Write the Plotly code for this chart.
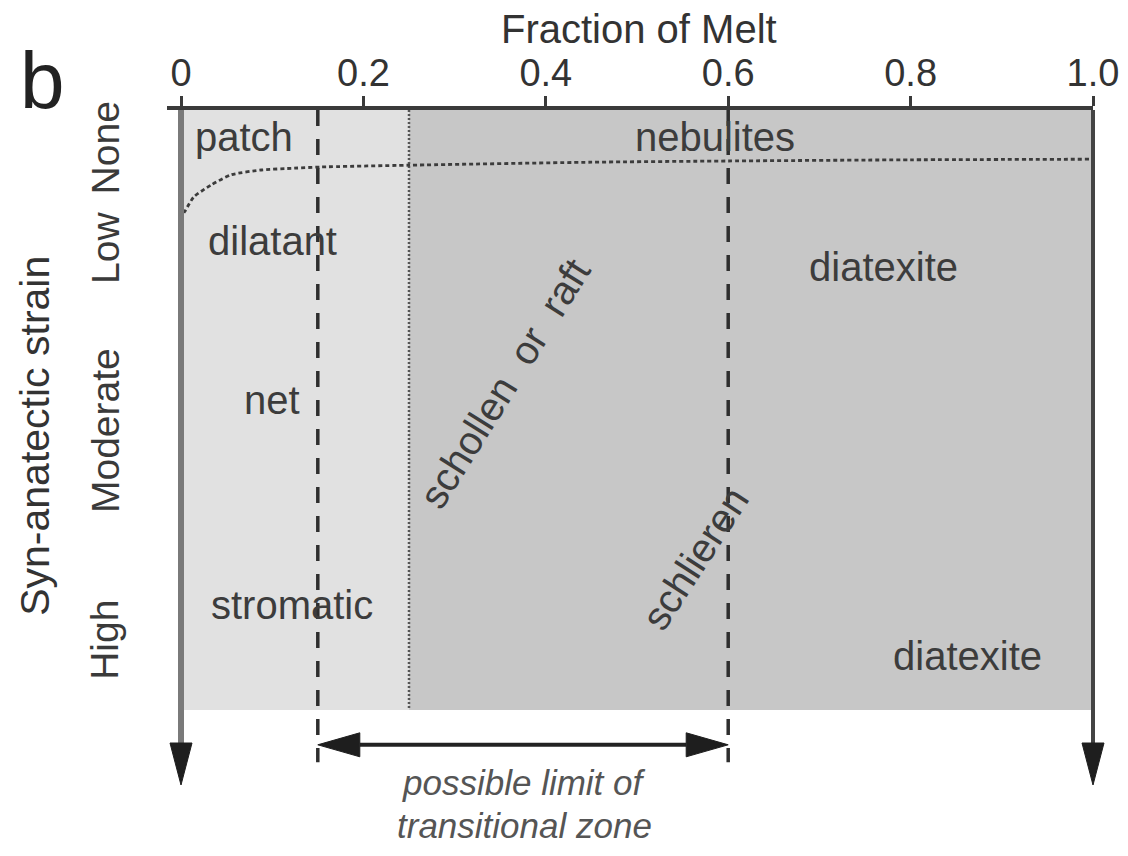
import plotly.graph_objects as go

# ---- data ----
# top axis: fraction of melt
tick_vals = [0, 0.2, 0.4, 0.6, 0.8, 1.0]
tick_text = ["0", "0.2", "0.4", "0.6", "0.8", "1.0"]

# shaded zones along the melt axis (metatexite / diatexite)
zone_edges = [0, 0.25, 1.0]
zone_colors = ["#e1e1e1", "#c7c7c7"]
zone_bottom = 1.0                # strain value where the shading stops

transition_limits = [0.15, 0.6]  # dashed lines
migmatite_limit = 0.25           # dotted line

# left axis: syn-anatectic strain, 0 = none (top) .. 1 = high (bottom)
strain_levels = ["None", "Low", "Moderate", "High"]
strain_pos = [0.064, 0.23, 0.535, 0.883]

# dotted boundary curve (patch / nebulites above it)
curve_melt = [0, 0, 0.005, 0.014, 0.033, 0.055, 0.088, 0.124, 0.153, 0.25, 0.45, 0.6, 0.8, 1.0]
curve_strain = [0.217, 0.18, 0.167, 0.145, 0.125, 0.108, 0.1, 0.097, 0.095, 0.092, 0.087, 0.085, 0.083, 0.082]

# structure names inside the diagram
region_names = ["patch", "dilatant", "net", "stromatic", "nebulites",
                 "diatexite", "diatexite", "schollen\u00a0 or\u00a0 raft", "schlieren"]
region_melt = [0.069, 0.100, 0.100, 0.122, 0.585, 0.770, 0.862, 0.355, 0.564]
region_strain = [0.045, 0.218, 0.483, 0.825, 0.045, 0.262, 0.910, 0.455, 0.747]
region_angle = [0, 0, 0, 0, 0, 0, 0, -58, -57]

# arrows
arrow_tip_strain = 1.125          # tips of the two vertical arrows
range_arrow_strain = 1.058        # "possible limit" double arrow
dash_end_strain = 1.087

# ---- page geometry (pixels, measured on the reference picture) ----
PAGE_W, PAGE_H = 1128, 856
PAGE_PAD = 8                      # body margin of the html page
W, H = PAGE_W - 2 * PAGE_PAD, PAGE_H - 2 * PAGE_PAD
X0_PX, PX_PER_MELT = 181, 912
Y0_PX, PX_PER_STRAIN = 110, 600
FONT = "Liberation Sans, Arial, sans-serif"


def dx(px):
    return px / PX_PER_MELT


def dy(px):
    return px / PX_PER_STRAIN


def mx(px):  # reference x pixel -> melt
    return (px - X0_PX) / PX_PER_MELT


def sy(px):  # reference y pixel -> strain
    return (px - Y0_PX) / PX_PER_STRAIN


fig = go.Figure()

# shaded zones
for i, col in enumerate(zone_colors):
    fig.add_shape(type="rect", xref="x", yref="y", layer="below",
                  x0=zone_edges[i], x1=zone_edges[i + 1], y0=0, y1=zone_bottom,
                  fillcolor=col, line_width=0)

# dotted boundary at 0.25
fig.add_trace(go.Scatter(x=[migmatite_limit, migmatite_limit], y=[0, zone_bottom],
                         mode="lines", line=dict(color="#555555", width=2.5, dash="2px,2px"),
                         hoverinfo="skip"))

# dashed transitional limits
for xv in transition_limits:
    fig.add_trace(go.Scatter(x=[xv, xv], y=[0, dash_end_strain], mode="lines",
                             line=dict(color="#2e2e2e", width=3.5, dash="16px,13px"),
                             hoverinfo="skip"))

# dotted curve
fig.add_trace(go.Scatter(x=curve_melt, y=curve_strain, mode="lines",
                         line=dict(color="#3c3c3c", width=2.8, dash="4px,3px", shape="spline",
                                   smoothing=0.6),
                         hoverinfo="skip"))

# vertical arrows (left and right borders)
head_len, head_half = dy(42), dx(11)
for xv, col, w in [(0, "#7a7a7a", 6), (1.0, "#444444", 4)]:
    fig.add_trace(go.Scatter(x=[xv, xv], y=[0, arrow_tip_strain - head_len], mode="lines",
                             line=dict(color=col, width=w), hoverinfo="skip"))
    fig.add_trace(go.Scatter(
        x=[xv - head_half, xv + head_half, xv, xv - head_half],
        y=[arrow_tip_strain - head_len, arrow_tip_strain - head_len, arrow_tip_strain,
           arrow_tip_strain - head_len],
        mode="lines", fill="toself", fillcolor="#1e1e1e",
        line=dict(color="#1e1e1e", width=1), hoverinfo="skip"))

# double arrow between the transitional limits
h_len, h_half = dx(42), dy(12)
a, b = transition_limits
fig.add_trace(go.Scatter(x=[a + h_len, b - h_len], y=[range_arrow_strain] * 2, mode="lines",
                         line=dict(color="#222222", width=4), hoverinfo="skip"))
for tip, back in [(a, a + h_len), (b, b - h_len)]:
    fig.add_trace(go.Scatter(
        x=[back, back, tip, back],
        y=[range_arrow_strain - h_half, range_arrow_strain + h_half, range_arrow_strain,
           range_arrow_strain - h_half],
        mode="lines", fill="toself", fillcolor="#1e1e1e",
        line=dict(color="#1e1e1e", width=1), hoverinfo="skip"))

# empty trace so the top melt axis gets drawn
fig.add_trace(go.Scatter(x=[None], y=[None], xaxis="x2", yaxis="y2", hoverinfo="skip"))

ann = []
for name, xm, ys, ang in zip(region_names, region_melt, region_strain, region_angle):
    ann.append(dict(x=xm, y=ys, text=name, textangle=ang, showarrow=False,
                    font=dict(size=40, color="#3c3c3c", family=FONT)))

for lvl, ys in zip(strain_levels, strain_pos):
    ann.append(dict(x=mx(105), y=ys, text=lvl, textangle=-90, showarrow=False,
                    font=dict(size=39, color="#3a3a3a", family=FONT)))

ann.append(dict(x=mx(35), y=0.543, text="Syn-anatectic strain", textangle=-90,
                showarrow=False, font=dict(size=41, color="#333333", family=FONT)))
ann.append(dict(x=0.502, y=sy(29), text="Fraction of Melt", showarrow=False,
                font=dict(size=40, color="#333333", family=FONT)))
ann.append(dict(x=mx(42), y=sy(80), text="b", showarrow=False,
                font=dict(size=80, color="#222222", family=FONT)))
ann.append(dict(x=0.376, y=sy(782), text="<i>possible limit of</i>", showarrow=False,
                font=dict(size=35, color="#555555", family=FONT)))
# anchored on its bottom edge so the text box stays inside the page
ann.append(dict(x=0.377, y=sy(PAGE_H - PAGE_PAD - 1), yanchor="bottom",
                text="<i>transitional zone</i>", showarrow=False,
                font=dict(size=35, color="#555555", family=FONT)))

axis_left_px, axis_right_px = 167, 1093
# reference pixels -> the figure's own pixels (page padding removed)
fx0, fy0 = PAGE_PAD, PAGE_PAD

fig.update_layout(
    width=W, height=H,
    margin=dict(l=0, r=0, t=0, b=0, autoexpand=False),
    paper_bgcolor="white", plot_bgcolor="rgba(0,0,0,0)",
    showlegend=False,
    annotations=ann,
    xaxis=dict(domain=[0, 1], range=[mx(fx0), mx(fx0 + W)], visible=False, automargin=False),
    yaxis=dict(domain=[0, 1], range=[sy(fy0 + H), sy(fy0)], visible=False, automargin=False),
    xaxis2=dict(domain=[(axis_left_px - fx0) / W, (axis_right_px - fx0) / W],
                range=[mx(axis_left_px), mx(axis_right_px)], automargin=False,
                anchor="y2", side="top", showline=True, linecolor="#3a3a3a", linewidth=4,
                ticks="outside", ticklen=10, tickwidth=3, tickcolor="#3a3a3a",
                tickvals=tick_vals, ticktext=tick_text, showgrid=False, zeroline=False,
                tickfont=dict(size=38, color="#333333", family=FONT), ticklabelstandoff=-5),
    yaxis2=dict(domain=[0, 1 - (Y0_PX - fy0) / H], anchor="x2", visible=False,
                range=[1, 0], automargin=False),
)

fig.write_html("out.html")
